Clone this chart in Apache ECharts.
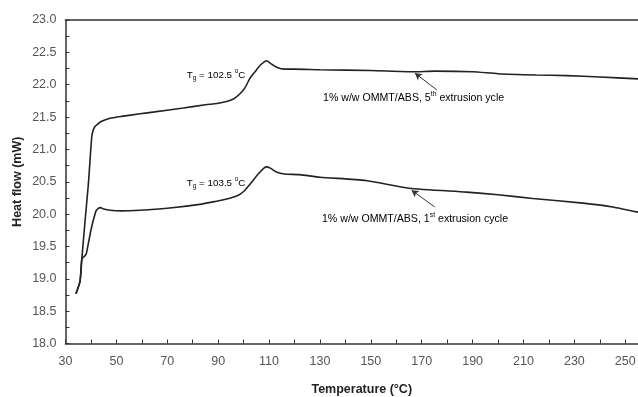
<!DOCTYPE html>
<html>
<head>
<meta charset="utf-8">
<script src="https://cdn.jsdelivr.net/npm/echarts@6/dist/echarts.min.js"></script>
<style>html,body{margin:0;padding:0;background:#fff;}#c{width:638px;height:397px;}</style>
</head>
<body>
<div id="c"></div>
<script>
// Temperature (°C) / heat flow (mW) readings
var cycle5T = [34.1,35.7,36.4,37.7,39.0,40.3,40.9,41.5,42.3,44,47.5,52,59.3,65,76.3,85,89.5,93.3,96,98.6,100.5,102.5,104.5,106.5,108,109.1,110.5,113,116,120,130,150,167,175,190,200,215,227,240,255];
var cycle5Y = [18.77,18.96,19.3,19.9,20.47,21.19,21.3,21.35,21.38,21.43,21.48,21.51,21.55,21.58,21.64,21.69,21.71,21.74,21.78,21.86,21.95,22.1,22.2,22.3,22.35,22.37,22.33,22.27,22.24,22.24,22.23,22.22,22.2,22.21,22.2,22.17,22.15,22.14,22.12,22.09];
var cycle1T = [34.1,35.7,36.4,37.2,38.1,39.0,40.0,40.9,42.0,42.9,43.7,45,47.5,52,59.3,70,82.8,89.4,93,97.3,100,103.7,106,108,109,110.5,112.9,116,122,130,148,165,187.6,200,213.7,233.4,245,255];
var cycle1Y = [18.77,18.96,19.3,19.34,19.38,19.55,19.75,19.9,20.05,20.09,20.1,20.08,20.06,20.05,20.06,20.09,20.15,20.2,20.23,20.28,20.35,20.52,20.63,20.71,20.73,20.71,20.65,20.62,20.61,20.57,20.52,20.4,20.34,20.3,20.24,20.17,20.11,20.03];
var xTicks = {min:30, max:255, interval:20};
var yTicks = {min:18, max:23, interval:0.5};

function pairs(t, y){ return t.map(function(v,i){ return [v, y[i]]; }); }

var chart = echarts.init(document.getElementById('c'));
var axisCol = '#333';
var labelCol = '#555';
var arrowStyle = {color:'#333', width:1, type:'solid'};
chart.setOption({
  animation:false,
  grid:{left:65.5, top:20, right:0, bottom:53.5, containLabel:false, outerBoundsMode:'none'},
  xAxis:[{
    type:'value', min:xTicks.min, max:xTicks.max, interval:xTicks.interval,
    name:'Temperature (°C)', nameLocation:'middle', nameGap:40, nameMoveOverlap:false,
    nameTextStyle:{fontFamily:'Liberation Sans, Arial', fontWeight:'bold', fontSize:12.5, color:'#222', padding:[0,0,0,20]},
    axisLine:{lineStyle:{color:axisCol, width:1.5}},
    axisTick:{inside:true, length:4, lineStyle:{color:axisCol}},
    minorTick:{show:true, splitNumber:2, length:4, lineStyle:{color:axisCol}},
    axisLabel:{fontFamily:'Liberation Sans, Arial', fontSize:12.5, color:labelCol, margin:12, showMaxLabel:false},
    splitLine:{show:false}
  },{
    type:'value', position:'top', min:xTicks.min, max:xTicks.max,
    axisLine:{show:true, lineStyle:{color:axisCol, width:1.5}},
    axisTick:{show:false}, axisLabel:{show:false}, splitLine:{show:false}
  }],
  yAxis:{
    type:'value', min:yTicks.min, max:yTicks.max, interval:yTicks.interval,
    name:'Heat flow (mW)', nameLocation:'middle', nameGap:41, nameMoveOverlap:false,
    nameTextStyle:{fontFamily:'Liberation Sans, Arial', fontWeight:'bold', fontSize:12.5, color:'#222'},
    axisLine:{show:true, lineStyle:{color:axisCol, width:1.5}},
    axisTick:{inside:true, length:4, lineStyle:{color:axisCol}},
    minorTick:{show:true, splitNumber:2, length:4, lineStyle:{color:axisCol}},
    axisLabel:{fontFamily:'Liberation Sans, Arial', fontSize:12.5, color:labelCol, margin:9,
      formatter:function(v){ return v.toFixed(1); }},
    splitLine:{show:false}
  },
  series:[{
    type:'line', name:'5th', data:pairs(cycle5T, cycle5Y), showSymbol:false, smooth:0.2,
    lineStyle:{color:'#222', width:1.6},
    markLine:{silent:true, symbol:['none','arrow'], symbolSize:[6,7], label:{show:false}, lineStyle:arrowStyle,
      data:[[{coord:[175.9,21.92]},{coord:[167.3,22.18]}]]}
  },{
    type:'line', name:'1st', data:pairs(cycle1T, cycle1Y), showSymbol:false, smooth:0.2,
    lineStyle:{color:'#222', width:1.6},
    markLine:{silent:true, symbol:['none','arrow'], symbolSize:[6,7], label:{show:false}, lineStyle:arrowStyle,
      data:[[{coord:[175.1,20.11]},{coord:[166.0,20.37]}]]}
  }]
});

function makeRich(fs){
  return {
    n:{fontFamily:'Liberation Sans, Arial', fontSize:fs, color:'#333', lineHeight:fs+3},
    sub:{fontFamily:'Liberation Sans, Arial', fontSize:fs*0.65, color:'#333', lineHeight:fs*0.65, verticalAlign:'bottom'},
    sup:{fontFamily:'Liberation Sans, Arial', fontSize:fs*0.65, color:'#333', lineHeight:fs*0.65, verticalAlign:'top'}
  };
}
var notes = [
  {at:[77.7,22.15], fs:9.8, text:'{n|T}{sub|g}{n| = 102.5 }{sup|o}{n|C}'},
  {at:[77.7,20.48], fs:9.8, text:'{n|T}{sub|g}{n| = 103.5 }{sup|o}{n|C}'},
  {at:[131.2,21.80], fs:10.6, text:'{n|1% w/w OMMT/ABS, 5}{sup|th}{n| extrusion ycle}'},
  {at:[130.8,19.93], fs:10.6, text:'{n|1% w/w OMMT/ABS, 1}{sup|st}{n| extrusion cycle}'}
];
chart.setOption({
  graphic: notes.map(function(o){
    var p = chart.convertToPixel({gridIndex:0}, o.at);
    return {type:'text', x:p[0], y:p[1], silent:true,
      style:{text:o.text, rich:makeRich(o.fs), align:'left', verticalAlign:'middle'}};
  })
});
</script>
</body>
</html>
